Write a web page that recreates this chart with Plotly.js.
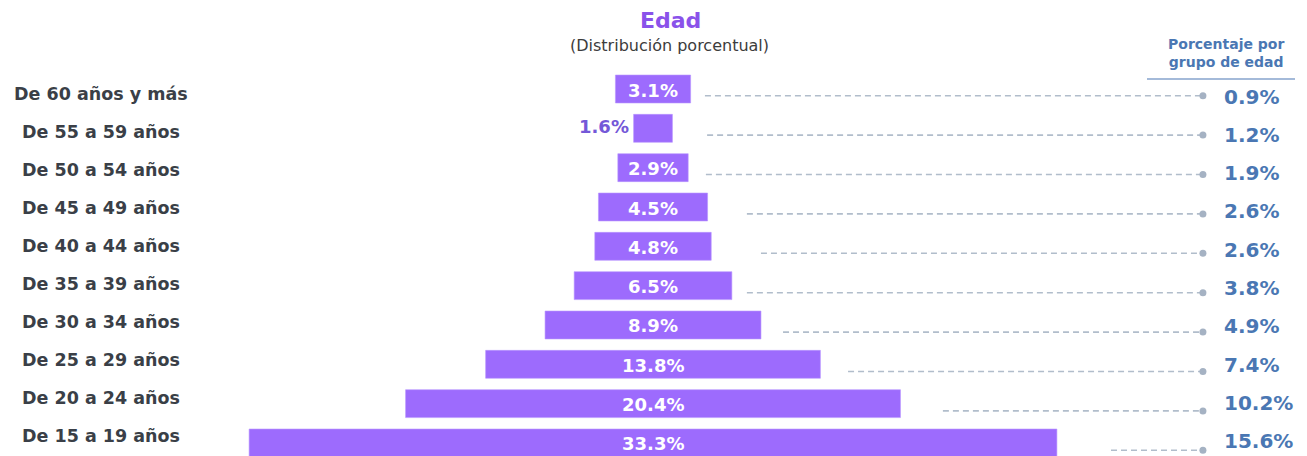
<!DOCTYPE html>
<html>
<head>
<meta charset="utf-8">
<script src="https://cdn.plot.ly/plotly-3.0.1.min.js"></script>
<style>html,body{margin:0;padding:0;background:#fff;}#chart{width:1307px;height:456px;}</style>
</head>
<body>
<div id="chart"></div>
<script>
// ---- data ----
const ageGroups = ["De 60 años y más","De 55 a 59 años","De 50 a 54 años","De 45 a 49 años","De 40 a 44 años","De 35 a 39 años","De 30 a 34 años","De 25 a 29 años","De 20 a 24 años","De 15 a 19 años"];
const distribution = [3.1, 1.6, 2.9, 4.5, 4.8, 6.5, 8.9, 13.8, 20.4, 33.3];
const groupRate = [0.9, 1.2, 1.9, 2.6, 2.6, 3.8, 4.9, 7.4, 10.2, 15.6];

// ---- layout / style settings ----
const PURPLE = "#9d6bfd";
const BLUE = "#4a77b3";
const DASH = "#b1bdcb";
const FONT = "'DejaVu Sans', Verdana, sans-serif";
const dashStart = [2.14, 2.23, 2.18, 3.87, 4.45, 3.87, 5.36, 8.04, 11.95, 18.88];
const dotX = 22.67;
const valueX = 23.45;
const idx = ageGroups.map((_, i) => i);

const traces = [];
traces.push({
  type: "bar", orientation: "h",
  y: idx, x: distribution, base: distribution.map(v => -v / 2),
  width: 0.71,
  marker: {color: PURPLE, line: {color: "#b896ff", width: 0.6}},
  hoverinfo: "skip", showlegend: false
});
idx.forEach(i => {
  traces.push({
    type: "scatter", mode: "lines", yaxis: "y2",
    x: [dashStart[i], dotX], y: [i, i],
    line: {color: DASH, width: 1.6, dash: "6px,4px"},
    hoverinfo: "skip", showlegend: false
  });
});
traces.push({
  type: "scatter", mode: "markers", yaxis: "y2",
  x: idx.map(() => dotX), y: idx,
  marker: {color: "#a5b2c3", size: 7},
  hoverinfo: "skip", showlegend: false
});
// invisible anchors so the label axes exist
traces.push({type: "scatter", mode: "none", yaxis: "y3", x: [0], y: [0], hoverinfo: "skip", showlegend: false});
traces.push({type: "scatter", mode: "none", yaxis: "y4", x: [0], y: [0], hoverinfo: "skip", showlegend: false});

const annotations = [];
// titles
annotations.push({xref: "paper", yref: "paper", x: 670/1307, y: 1 - 21/456, text: "<b>Edad</b>", showarrow: false,
  font: {family: FONT, size: 22, color: "#8a52ea"}, xanchor: "center", yanchor: "middle"});
annotations.push({xref: "paper", yref: "paper", x: 669/1307, y: 1 - 45/456, text: "(Distribución porcentual)", showarrow: false,
  font: {family: FONT, size: 16, color: "#3c3c3c"}, xanchor: "center", yanchor: "middle"});
annotations.push({xref: "paper", yref: "paper", x: 1226/1307, y: 1 - 53/456, text: "<b>Porcentaje por<br>grupo de edad</b>", showarrow: false,
  font: {family: FONT, size: 14, color: BLUE}, xanchor: "center", yanchor: "middle", align: "center"});
// left labels
ageGroups.forEach((g, i) => {
  annotations.push({xref: "paper", yref: "y4", x: 101/1307, y: i, text: "<b>" + g + "</b>", showarrow: false,
    font: {family: FONT, size: 17.5, color: "#3a3f47"}, xanchor: "center", yanchor: "middle"});
});
// bar labels
distribution.forEach((v, i) => {
  if (v < 2.5) {
    annotations.push({xref: "x", yref: "y", x: -v / 2, y: i, xshift: -3, yshift: 2, text: "<b>" + v.toFixed(1) + "%</b>", showarrow: false,
      font: {family: FONT, size: 18, color: "#7458d8"}, xanchor: "right", yanchor: "middle"});
  } else {
    annotations.push({xref: "x", yref: "y", x: 0, y: i, yshift: -1, text: "<b>" + v.toFixed(1) + "%</b>", showarrow: false,
      font: {family: FONT, size: 18, color: "#ffffff"}, xanchor: "center", yanchor: "middle"});
  }
});
// right values
groupRate.forEach((v, i) => {
  annotations.push({xref: "x", yref: "y3", x: valueX, y: i, text: "<b>" + v.toFixed(1) + "%</b>", showarrow: false,
    font: {family: FONT, size: 20, color: BLUE}, xanchor: "left", yanchor: "middle"});
});

const layout = {
  width: 1307, height: 456,
  margin: {l: 0, r: 0, t: 0, b: 0, pad: 0},
  paper_bgcolor: "#ffffff", plot_bgcolor: "#ffffff",
  showlegend: false,
  xaxis: {range: [-26.92, 26.96], visible: false, fixedrange: true},
  yaxis: {range: [9.331, -2.263], visible: false, fixedrange: true},
  yaxis2: {range: [9.145, -2.429], overlaying: "y", visible: false, fixedrange: true},
  yaxis3: {range: [9.391, -2.527], overlaying: "y", visible: false, fixedrange: true},
  yaxis4: {range: [9.526, -2.474], overlaying: "y", visible: false, fixedrange: true},
  shapes: [{type: "line", xref: "paper", yref: "paper", x0: 1147/1307, x1: 1295/1307, y0: 1 - 79/456, y1: 1 - 79/456,
    line: {color: BLUE, width: 1.2}}],
  annotations: annotations
};

Plotly.newPlot("chart", traces, layout, {displayModeBar: false, staticPlot: true});
</script>
</body>
</html>
